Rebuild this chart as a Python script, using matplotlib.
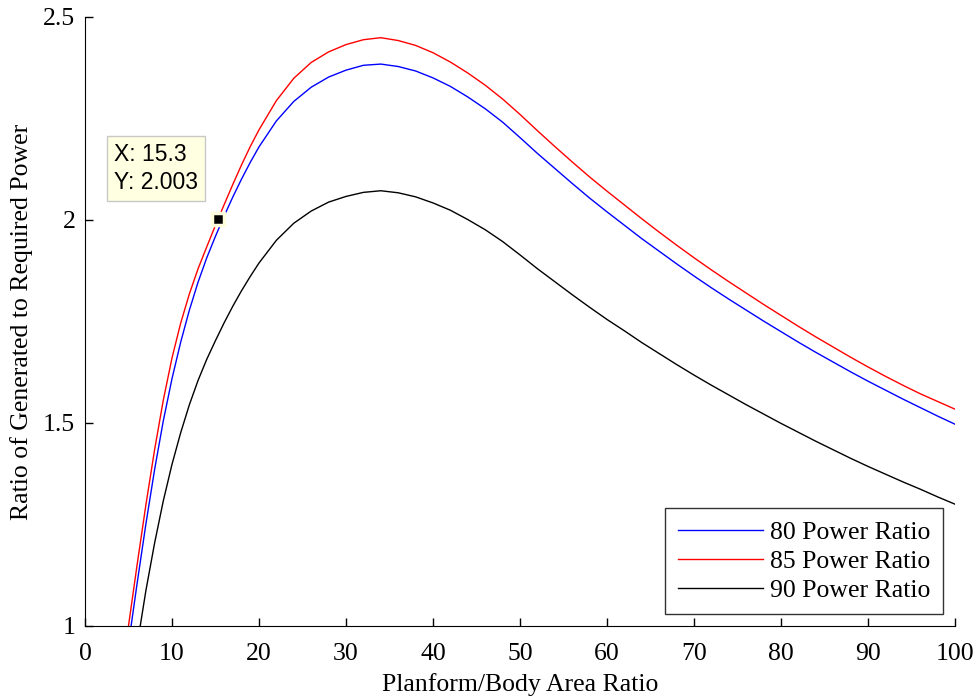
import numpy as np
import matplotlib
matplotlib.use("Agg")
import matplotlib.pyplot as plt

# values
x_80 = [5.3, 6, 7, 8, 9, 10, 11, 12, 13, 14, 15, 16, 17, 18, 19, 20,
        22, 24, 26, 28, 30, 32, 34, 36, 38, 40, 42, 44, 46, 48, 50, 52, 54, 56, 58, 60,
        62, 64, 66, 68, 70, 72, 74, 76, 78, 80, 82, 84, 86, 88, 90, 92, 94, 96, 98, 100]
y_80 = [1.000, 1.106, 1.251, 1.385, 1.505, 1.609, 1.699, 1.778, 1.847, 1.907, 1.960,
        2.010, 2.057, 2.101, 2.142, 2.180,
        2.244, 2.292, 2.327, 2.352, 2.369, 2.381, 2.384, 2.378, 2.367, 2.350, 2.329,
        2.303, 2.274, 2.241, 2.203, 2.164, 2.127, 2.090, 2.054, 2.020, 1.987, 1.954,
        1.923, 1.892, 1.862, 1.833, 1.805, 1.778, 1.751, 1.725, 1.699, 1.674, 1.650,
        1.626, 1.603, 1.581, 1.559, 1.538, 1.517, 1.497]

x_85 = [5.0, 6, 7, 8, 9, 10, 11, 12, 13, 14, 15, 16, 17, 18, 19, 20,
        22, 24, 26, 28, 30, 32, 34, 36, 38, 40, 42, 44, 46, 48, 50, 52, 54, 56, 58, 60,
        62, 64, 66, 68, 70, 72, 74, 76, 78, 80, 82, 84, 86, 88, 90, 92, 94, 96, 98, 100]
y_85 = [1.000, 1.152, 1.298, 1.434, 1.556, 1.660, 1.746, 1.818, 1.880, 1.934, 1.987,
        2.038, 2.088, 2.136, 2.181, 2.222,
        2.294, 2.349, 2.388, 2.414, 2.432, 2.444, 2.449, 2.442, 2.430, 2.412, 2.389,
        2.362, 2.332, 2.298, 2.260, 2.220, 2.181, 2.143, 2.106, 2.071, 2.037, 2.003,
        1.970, 1.938, 1.907, 1.877, 1.848, 1.820, 1.792, 1.765, 1.738, 1.712, 1.687,
        1.662, 1.638, 1.615, 1.593, 1.572, 1.553, 1.534]

x_90 = [6.35, 7, 8, 9, 10, 11, 12, 13, 14, 15, 16, 17, 18, 19, 20,
        22, 24, 26, 28, 30, 32, 34, 36, 38, 40, 42, 44, 46, 48, 50, 52, 54, 56, 58, 60,
        62, 64, 66, 68, 70, 72, 74, 76, 78, 80, 82, 84, 86, 88, 90, 92, 94, 96, 98, 100]
y_90 = [1.000, 1.087, 1.204, 1.308, 1.398, 1.476, 1.545, 1.605, 1.657, 1.703, 1.747,
        1.788, 1.826, 1.861, 1.894,
        1.950, 1.992, 2.022, 2.044, 2.058, 2.068, 2.072, 2.067, 2.057, 2.042, 2.024,
        2.001, 1.976, 1.947, 1.914, 1.880, 1.848, 1.816, 1.785, 1.755, 1.727, 1.698,
        1.671, 1.644, 1.618, 1.593, 1.569, 1.545, 1.522, 1.499, 1.477, 1.455, 1.434,
        1.413, 1.393, 1.374, 1.355, 1.337, 1.318, 1.300]

series_labels = ['80 Power Ratio', '85 Power Ratio', '90 Power Ratio']
tip_x, tip_y = 15.3, 2.003

plt.rcParams['font.family'] = ['Liberation Serif', 'DejaVu Serif']

fig = plt.figure(figsize=(9.79, 6.96), dpi=100)
ax = fig.add_axes([0.0868, 0.1006, 0.8887, 0.875])

ax.plot(x_80, y_80, color='#0000ff', lw=1.0, label=series_labels[0])
ax.plot(x_85, y_85, color='#ff0000', lw=1.0, label=series_labels[1])
ax.plot(x_90, y_90, color='#000000', lw=1.0, label=series_labels[2])

# data tip like the matlab one
ax.plot([tip_x], [tip_y], marker='s', ms=9, color='black', mec='#ffffdd', mew=2.5,
        zorder=5, clip_on=False)
ax.annotate(f"X: {tip_x}\nY: {tip_y}", xy=(tip_x, tip_y), xytext=(-75, 36),
            textcoords='offset points', ha='left', va='center', fontsize=16.5,
            family=['Liberation Sans', 'DejaVu Sans'], linespacing=1.3,
            bbox=dict(boxstyle='square,pad=0.3', fc='#ffffe1', ec='#c8c8c8', lw=1.0),
            zorder=6)

ax.set_xlim(0, 100)
ax.set_ylim(1, 2.5)
ax.set_xticks(np.arange(0, 101, 10))
ax.set_yticks([1, 1.5, 2, 2.5])
ax.set_yticklabels(['1', '1.5', '2', '2.5'])
ax.spines['top'].set_visible(False)
ax.spines['right'].set_visible(False)
ax.tick_params(direction='in', length=6, width=1, labelsize=18.5)
ax.tick_params(axis='x', pad=12)
ax.tick_params(axis='y', pad=7)
ax.set_xlabel('Planform/Body Area Ratio', fontsize=18.5, labelpad=6)
ax.set_ylabel('Ratio of Generated to Required Power', fontsize=18.5, labelpad=7)

leg = ax.legend(loc='lower right', fontsize=18.5, frameon=True, fancybox=False,
                edgecolor='black', borderpad=0.5, handlelength=3.3,
                handletextpad=0.3, labelspacing=0.22, borderaxespad=0.45,
                bbox_to_anchor=(1, 0))
leg.get_frame().set_linewidth(1.0)

fig.savefig('out.png', dpi=100)
